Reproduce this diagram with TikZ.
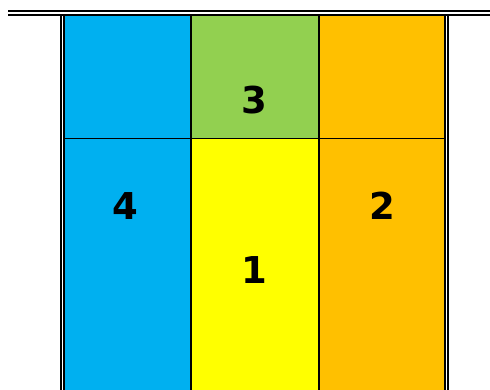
\documentclass[tikz,border=0pt]{standalone}
\usepackage{fontspec}
\setmainfont{DejaVu Sans}
\definecolor{cblue}{HTML}{00B0F0}
\definecolor{cgreen}{HTML}{92D050}
\definecolor{cyellow}{HTML}{FFFF00}
\definecolor{corange}{HTML}{FFC000}
\begin{document}
\begin{tikzpicture}[x=1pt,y=-1pt,
  lab/.style={font=\fontsize{37}{42}\selectfont\bfseries, text=black, inner sep=0pt},
  rule/.style={draw=black, line cap=butt}]
\useasboundingbox (0,0) rectangle (490,390);
% cells
\fill[cblue] (65,15) rectangle (190,390);
\fill[cgreen] (191,15) rectangle (318,138);
\fill[cyellow] (191,138) rectangle (318,390);
\fill[corange] (319,15) rectangle (445,390);
% top double rule
\draw[rule, line width=1.8pt] (8,11) -- (490,11);
\draw[rule, line width=1.8pt] (8,14.8) -- (490,14.8);
% left double rule
\draw[rule, line width=2.2pt] (61,14.8) -- (61,390);
\draw[rule, line width=1.6pt] (64.2,14.8) -- (64.2,390);
% right double rule
\draw[rule, line width=1.6pt] (445,14.8) -- (445,390);
\draw[rule, line width=2.2pt] (447.8,14.8) -- (447.8,390);
% column dividers
\draw[rule, line width=2pt] (191,14.8) -- (191,390);
\draw[rule, line width=1.8pt] (318.7,14.8) -- (318.7,390);
% row divider
\draw[rule, line width=1.1pt] (64,138.5) -- (445,138.5);
% small top tabs
\draw[rule, line width=1.2pt] (64,15.8) -- (69,15.8);
\draw[rule, line width=1.2pt] (191,15.8) -- (197,15.8);
\draw[rule, line width=1.2pt] (318.7,15.8) -- (324,15.8);
% labels
\node[lab] (l3) at (254.5,100) {3};
\node[lab] (l4) at (125.5,206) {4};
\node[lab] (l2) at (382.5,206) {2};
\node[lab] (l1) at (254.5,270) {1};
\end{tikzpicture}
\end{document}
